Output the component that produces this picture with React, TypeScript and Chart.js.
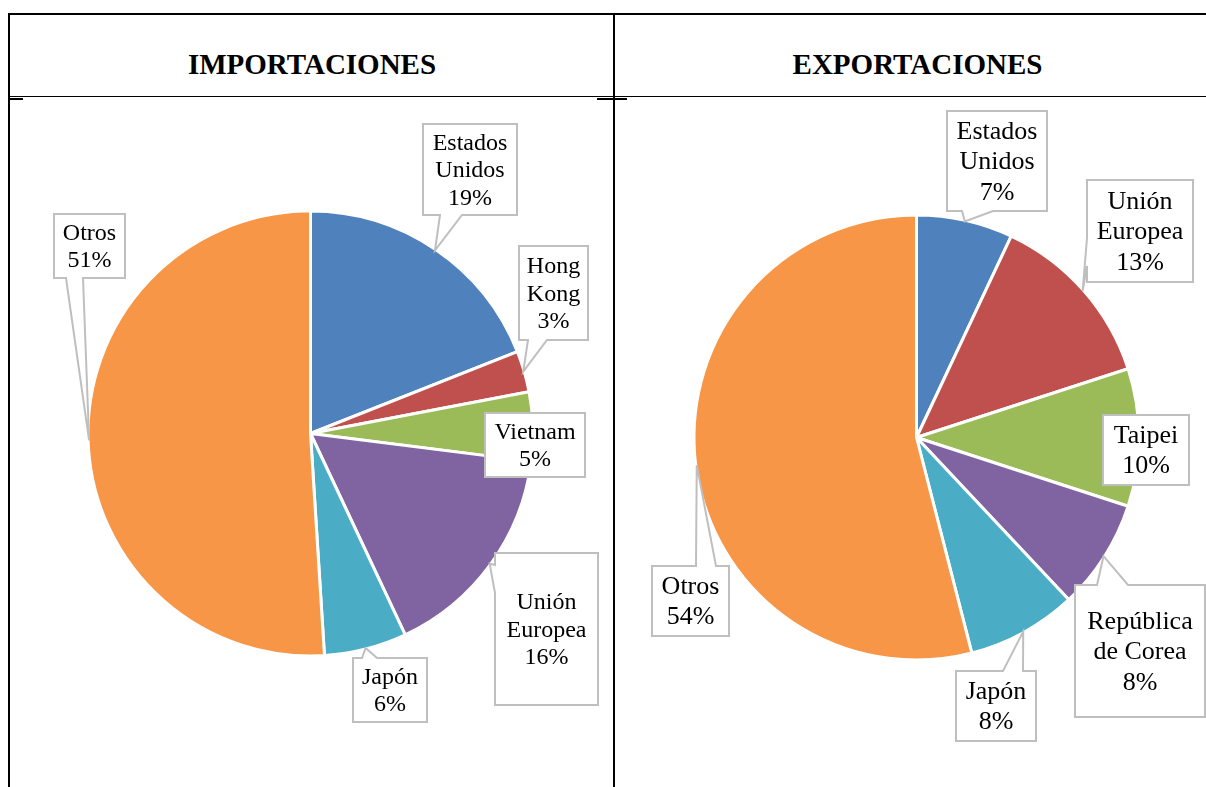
import React, { useEffect, useRef } from "react";
import { Chart, registerables } from "chart.js";

Chart.register(...registerables);

// ---------- DATA ----------
const importCategories = ["Estados Unidos", "Hong Kong", "Vietnam", "Unión Europea", "Japón", "Otros"];
const importValues = [19, 3, 5, 16, 6, 51];
const importLabelLines = [["Estados", "Unidos"], ["Hong", "Kong"], ["Vietnam"], ["Unión", "Europea"], ["Japón"], ["Otros"]];

const exportCategories = ["Estados Unidos", "Unión Europea", "Taipei", "República de Corea", "Japón", "Otros"];
const exportValues = [7, 13, 10, 8, 8, 54];
const exportLabelLines = [["Estados", "Unidos"], ["Unión", "Europea"], ["Taipei"], ["República", "de Corea"], ["Japón"], ["Otros"]];

const headerTitles = ["IMPORTACIONES", "EXPORTACIONES"];

// ---------- STYLE / LAYOUT ----------
const sliceColors = ["#4F81BD", "#C0504D", "#9BBB59", "#8064A2", "#4BACC6", "#F79646"];
const W = 1206;
const H = 787;
const SERIF = '"Liberation Serif", "Times New Roman", serif';

type Edge = "top" | "bottom" | "left" | "right";
type Callout = { box: [number, number, number, number]; edge?: Edge; a?: number; b?: number };

const importCallouts: Callout[] = [
  { box: [423, 124, 94, 91], edge: "bottom", a: 17, b: 39 },
  { box: [519, 246, 69, 94], edge: "bottom", a: 9, b: 28 },
  { box: [485, 413, 100, 64] },
  { box: [495, 553, 103, 152], edge: "left", a: 12, b: 40 },
  { box: [353, 658, 74, 64], edge: "top", a: 9, b: 24 },
  { box: [54, 214, 71, 64], edge: "bottom", a: 12, b: 29 },
];

const exportCallouts: Callout[] = [
  { box: [947, 111, 100, 100], edge: "bottom", a: 15, b: 46 },
  { box: [1087, 180, 106, 102], edge: "left", a: 58, b: 86 },
  { box: [1103, 415, 86, 70] },
  { box: [1075, 585, 130, 132], edge: "top", a: 22, b: 53 },
  { box: [956, 671, 80, 70], edge: "top", a: 47, b: 67 },
  { box: [652, 566, 77, 70], edge: "top", a: 44, b: 64 },
];

function makeCalloutPlugin(callouts: Callout[]) {
  return {
    id: "callouts",
    afterDatasetsDraw(chart: any) {
      const ctx: CanvasRenderingContext2D = chart.ctx;
      const meta = chart.getDatasetMeta(0);
      meta.data.forEach((arc: any, i: number) => {
        const c = callouts[i];
        if (!c) return;
        const p = arc.getProps(["x", "y", "startAngle", "endAngle", "outerRadius"], true);
        const mid = (p.startAngle + p.endAngle) / 2;
        const tipX = p.x + Math.cos(mid) * (p.outerRadius - 1);
        const tipY = p.y + Math.sin(mid) * (p.outerRadius - 1);
        const [bx, by, bw, bh] = c.box;
        ctx.save();
        ctx.beginPath();
        ctx.moveTo(bx, by);
        if (c.edge === "top") {
          ctx.lineTo(bx + c.a!, by);
          ctx.lineTo(tipX, tipY);
          ctx.lineTo(bx + c.b!, by);
        }
        ctx.lineTo(bx + bw, by);
        if (c.edge === "right") {
          ctx.lineTo(bx + bw, by + c.a!);
          ctx.lineTo(tipX, tipY);
          ctx.lineTo(bx + bw, by + c.b!);
        }
        ctx.lineTo(bx + bw, by + bh);
        if (c.edge === "bottom") {
          ctx.lineTo(bx + c.b!, by + bh);
          ctx.lineTo(tipX, tipY);
          ctx.lineTo(bx + c.a!, by + bh);
        }
        ctx.lineTo(bx, by + bh);
        if (c.edge === "left") {
          ctx.lineTo(bx, by + c.b!);
          ctx.lineTo(tipX, tipY);
          ctx.lineTo(bx, by + c.a!);
        }
        ctx.closePath();
        ctx.fillStyle = "#FFFFFF";
        ctx.fill();
        ctx.lineWidth = 2;
        ctx.lineJoin = "miter";
        ctx.strokeStyle = "#BFBFBF";
        ctx.stroke();
        ctx.restore();
      });
    },
  };
}

function PieCanvas(props: {
  categories: string[];
  values: number[];
  callouts: Callout[];
  center: [number, number];
  size: number;
}) {
  const ref = useRef<HTMLCanvasElement | null>(null);
  useEffect(() => {
    if (!ref.current) return;
    const [cx, cy] = props.center;
    const half = props.size / 2;
    const chart = new Chart(ref.current, {
      type: "pie",
      data: {
        labels: props.categories,
        datasets: [
          {
            data: props.values,
            backgroundColor: sliceColors,
            borderColor: "#FFFFFF",
            borderWidth: 3,
          },
        ],
      },
      options: {
        responsive: false,
        animation: false,
        events: [],
        layout: {
          padding: {
            left: cx - half,
            top: cy - half,
            right: W - (cx + half),
            bottom: H - (cy + half),
          },
        },
        plugins: {
          legend: { display: false },
          tooltip: { enabled: false },
        },
      },
      plugins: [makeCalloutPlugin(props.callouts)],
    } as any);
    return () => chart.destroy();
  }, []);
  return (
    <canvas
      ref={ref}
      width={W}
      height={H}
      style={{ position: "absolute", left: 0, top: 0, width: W, height: H }}
    />
  );
}

function CalloutTexts(props: {
  callouts: Callout[];
  lines: string[][];
  values: number[];
  fontSize: number;
  lineH: number;
}) {
  const { fontSize: F, lineH: L } = props;
  return (
    <>
      {props.callouts.map((c, i) => {
        const [bx, by, bw, bh] = c.box;
        const textLines = [...props.lines[i], `${props.values[i]}%`];
        const firstBaseline = by + bh / 2 - ((textLines.length - 1) / 2) * L + F * 0.35;
        const top = firstBaseline - (L - 1.107 * F) / 2 - 0.891 * F;
        return (
          <div
            key={i}
            style={{
              position: "absolute",
              left: bx + bw / 2 - 100,
              top,
              width: 200,
              textAlign: "center",
              fontFamily: SERIF,
              fontSize: F,
              lineHeight: `${L}px`,
              color: "#000",
              whiteSpace: "nowrap",
            }}
          >
            {textLines.map((t, k) => (
              <div key={k}>{t}</div>
            ))}
          </div>
        );
      })}
    </>
  );
}

const line = (left: number, top: number, width: number, height: number) => (
  <div style={{ position: "absolute", left, top, width, height, background: "#000" }} />
);

export default function App() {
  return (
    <div
      style={{
        position: "fixed",
        left: 0,
        top: 0,
        width: W,
        height: H,
        overflow: "hidden",
        background: "#FFFFFF",
      }}
    >
      {line(8, 13, 1198, 2)}
      {line(8, 13, 2, 774)}
      {line(613, 13, 2, 774)}
      {line(10, 96, 1196, 1)}
      {line(10, 98, 13, 2)}
      {line(597, 98, 30, 2)}
      {headerTitles.map((t, i) => (
        <div
          key={t}
          style={{
            position: "absolute",
            left: (i === 0 ? 312 : 917.5) - 200,
            top: 50,
            width: 400,
            textAlign: "center",
            fontFamily: SERIF,
            fontWeight: "bold",
            fontSize: 29,
            lineHeight: "29px",
            color: "#000",
          }}
        >
          {t}
        </div>
      ))}
      <PieCanvas
        categories={importCategories}
        values={importValues}
        callouts={importCallouts}
        center={[310.5, 433.5]}
        size={448}
      />
      <PieCanvas
        categories={exportCategories}
        values={exportValues}
        callouts={exportCallouts}
        center={[916.5, 437.5]}
        size={448}
      />
      <CalloutTexts
        callouts={importCallouts}
        lines={importLabelLines}
        values={importValues}
        fontSize={24}
        lineH={27.5}
      />
      <CalloutTexts
        callouts={exportCallouts}
        lines={exportLabelLines}
        values={exportValues}
        fontSize={26}
        lineH={30.5}
      />
    </div>
  );
}
